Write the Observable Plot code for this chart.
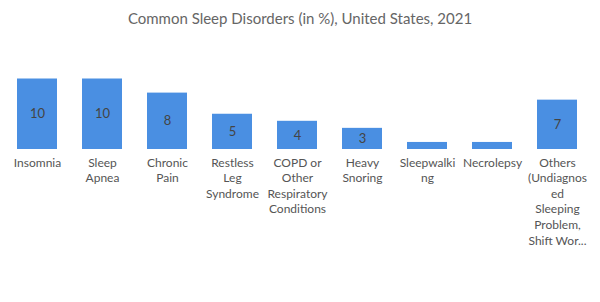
<!DOCTYPE html>
<html>
<head>
<meta charset="utf-8">
<script src="https://cdn.jsdelivr.net/npm/d3@7"></script>
<script src="https://cdn.jsdelivr.net/npm/@observablehq/plot@0.6"></script>
<style>
  body { margin: 0; background: #fff; font-family: Lato, "Open Sans", sans-serif; }
  #title { height: 36px; line-height: 36px; text-align: center; font-size: 15px; color: #666; }
</style>
</head>
<body>
<div id="title">Common Sleep Disorders (in %), United States, 2021</div>
<div id="chart"></div>
<script>
const categories = ["Insomnia", "Sleep Apnea", "Chronic Pain", "Restless Leg Syndrome",
  "COPD or Other Respiratory Conditions", "Heavy Snoring", "Sleepwalking", "Necrolepsy",
  "Others (Undiagnosed Sleeping Problem, Shift Work)"];
const values = [10, 10, 8, 5, 4, 3, 1, 1, 7];
const valueLabels = ["10", "10", "8", "5", "4", "3", "", "", "7"];
const tickLabels = ["Insomnia", "Sleep\nApnea", "Chronic\nPain", "Restless\nLeg\nSyndrome",
  "COPD or\nOther\nRespiratory\nConditions", "Heavy\nSnoring", "Sleepwalki\nng", "Necrolepsy",
  "Others\n(Undiagnos\ned\nSleeping\nProblem,\nShift Wor..."];

const data = categories.map((c, i) => ({category: c, value: values[i], label: valueLabels[i], tick: tickLabels[i]}));
const tickMap = new Map(data.map(d => [d.category, d.tick]));

const chart = Plot.plot({
  width: 600,
  height: 266,
  marginTop: 42.5,
  marginBottom: 153,
  marginLeft: 2,
  marginRight: 9,
  style: {fontFamily: "Lato, 'Open Sans', sans-serif", fontSize: "12px", color: "#555"},
  x: {domain: categories, paddingInner: 0.39, paddingOuter: 0.2},
  y: {domain: [0, 10], nice: false, axis: null},
  marks: [
    Plot.barY(data, {x: "category", y: "value", fill: "#4a8fe2"}),
    Plot.text(data, {x: "category", y: d => d.value / 2, text: "label", fill: "#444", fontSize: 13}),
    Plot.axisX({tickSize: 0, tickPadding: 6, tickFormat: d => tickMap.get(d), lineHeight: 1.3, fontSize: 12, fill: "#555", label: null}),
  ]
});
document.getElementById("chart").appendChild(chart);
</script>
</body>
</html>
